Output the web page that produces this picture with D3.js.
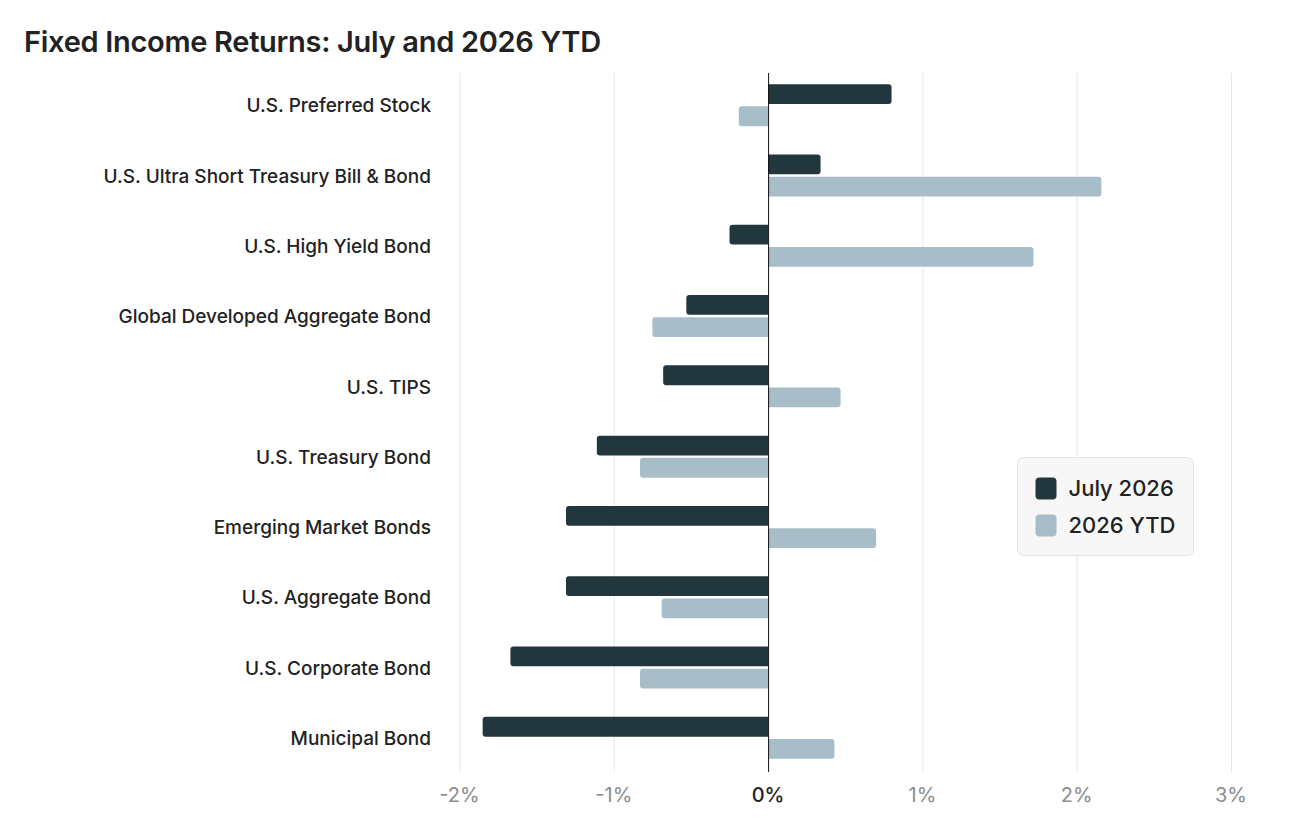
<!DOCTYPE html>
<html>
<head>
<meta charset="utf-8">
<script src="https://cdn.jsdelivr.net/npm/d3@7"></script>
<style>
  body { margin: 0; background: #fff; }
  svg { display: block; font-family: Inter, "Noto Sans", sans-serif; }
</style>
</head>
<body>
<div id="chart"></div>
<script>
// ---------------------------
// Data
// ---------------------------
const categories = [
  "U.S. Preferred Stock",
  "U.S. Ultra Short Treasury Bill & Bond",
  "U.S. High Yield Bond",
  "Global Developed Aggregate Bond",
  "U.S. TIPS",
  "U.S. Treasury Bond",
  "Emerging Market Bonds",
  "U.S. Aggregate Bond",
  "U.S. Corporate Bond",
  "Municipal Bond"
];
const seriesNames = ["July 2026", "2026 YTD"];
const july2026 = [0.80, 0.34, -0.25, -0.53, -0.68, -1.11, -1.31, -1.31, -1.67, -1.85];
const ytd2026 = [-0.19, 2.16, 1.72, -0.75, 0.47, -0.83, 0.70, -0.69, -0.83, 0.43];
const xTicks = [-2, -1, 0, 1, 2, 3];
const colors = ["#21363d", "#a7bec9"];

const width = 1314;
const height = 822;

const svg = d3.select("#chart")
  .append("svg")
  .attr("width", width)
  .attr("height", height);

// title
svg.append("text")
  .attr("x", 24)
  .attr("y", 52)
  .attr("font-size", 29)
  .attr("font-weight", 600)
  .attr("fill", "#222")
  .attr("letter-spacing", -0.3)
  .text("Fixed Income Returns: July and 2026 YTD");

// ---------------------------
// Scales
// ---------------------------
const x = d3.scaleLinear().domain([-2, 3]).range([459.5, 1231]);
const y = d3.scaleBand().domain(categories).range([70, 773]);
const ySub = d3.scaleBand().domain(seriesNames).range([-21, 21]).paddingInner(0.11);

const plotTop = 73, plotBottom = 772;

// gridlines
svg.append("g")
  .selectAll("line")
  .data(xTicks.filter(d => d !== 0))
  .join("line")
  .attr("x1", d => x(d) + 0.5)
  .attr("x2", d => x(d) + 0.5)
  .attr("y1", plotTop)
  .attr("y2", plotBottom)
  .attr("stroke", "#e6e6e6")
  .attr("stroke-width", 1);

// rounded outer end only
function barPath(v, y0, h) {
  const x0 = x(0), x1 = x(v);
  const r = Math.min(3, Math.abs(x1 - x0) / 2);
  const s = x1 > x0 ? 1 : -1;
  return `M${x0},${y0}` +
    `H${x1 - s * r}` +
    `Q${x1},${y0} ${x1},${y0 + r}` +
    `V${y0 + h - r}` +
    `Q${x1},${y0 + h} ${x1 - s * r},${y0 + h}` +
    `H${x0}Z`;
}

const rows = categories.map((c, i) => ({ cat: c, vals: [july2026[i], ytd2026[i]] }));

const group = svg.append("g")
  .selectAll("g")
  .data(rows)
  .join("g")
  .attr("transform", d => `translate(0,${y(d.cat) + y.bandwidth() / 2})`);

group.selectAll("path")
  .data(d => d.vals.map((v, j) => ({ v, s: seriesNames[j], j })))
  .join("path")
  .attr("d", d => barPath(d.v, ySub(d.s), ySub.bandwidth()))
  .attr("fill", d => colors[d.j]);

// category labels
svg.append("g")
  .selectAll("text")
  .data(categories)
  .join("text")
  .attr("x", 431)
  .attr("y", d => y(d) + y.bandwidth() / 2 + 0.5)
  .attr("dy", "0.35em")
  .attr("text-anchor", "end")
  .attr("font-size", 19)
  .attr("font-weight", 500)
  .attr("fill", "#222")
  .text(d => d);

// zero line
svg.append("line")
  .attr("x1", x(0) + 0.5)
  .attr("x2", x(0) + 0.5)
  .attr("y1", plotTop)
  .attr("y2", plotBottom)
  .attr("stroke", "#111")
  .attr("stroke-width", 1);

// x tick labels
svg.append("g")
  .selectAll("text")
  .data(xTicks)
  .join("text")
  .attr("x", d => x(d))
  .attr("y", 795)
  .attr("dy", "0.35em")
  .attr("text-anchor", "middle")
  .attr("font-size", 20)
  .attr("fill", d => d === 0 ? "#222" : "#8c8c8c")
  .attr("font-weight", d => d === 0 ? 500 : 400)
  .text(d => d + "%");

// ---------------------------
// Legend
// ---------------------------
const legend = svg.append("g")
  .attr("transform", "translate(1017.5,457.5)");

legend.append("rect")
  .attr("width", 176)
  .attr("height", 98)
  .attr("rx", 6)
  .attr("fill", "#f7f7f7")
  .attr("stroke", "#e4e4e4");

const legendItem = legend.selectAll("g")
  .data(seriesNames)
  .join("g")
  .attr("transform", (d, i) => `translate(18,${20 + i * 37})`);

legendItem.append("rect")
  .attr("width", 21)
  .attr("height", 22)
  .attr("rx", 4)
  .attr("fill", (d, i) => colors[i]);

legendItem.append("text")
  .attr("x", 33)
  .attr("y", 11)
  .attr("dy", "0.35em")
  .attr("font-size", 22)
  .attr("font-weight", 500)
  .attr("fill", "#222")
  .text(d => d);
</script>
</body>
</html>
